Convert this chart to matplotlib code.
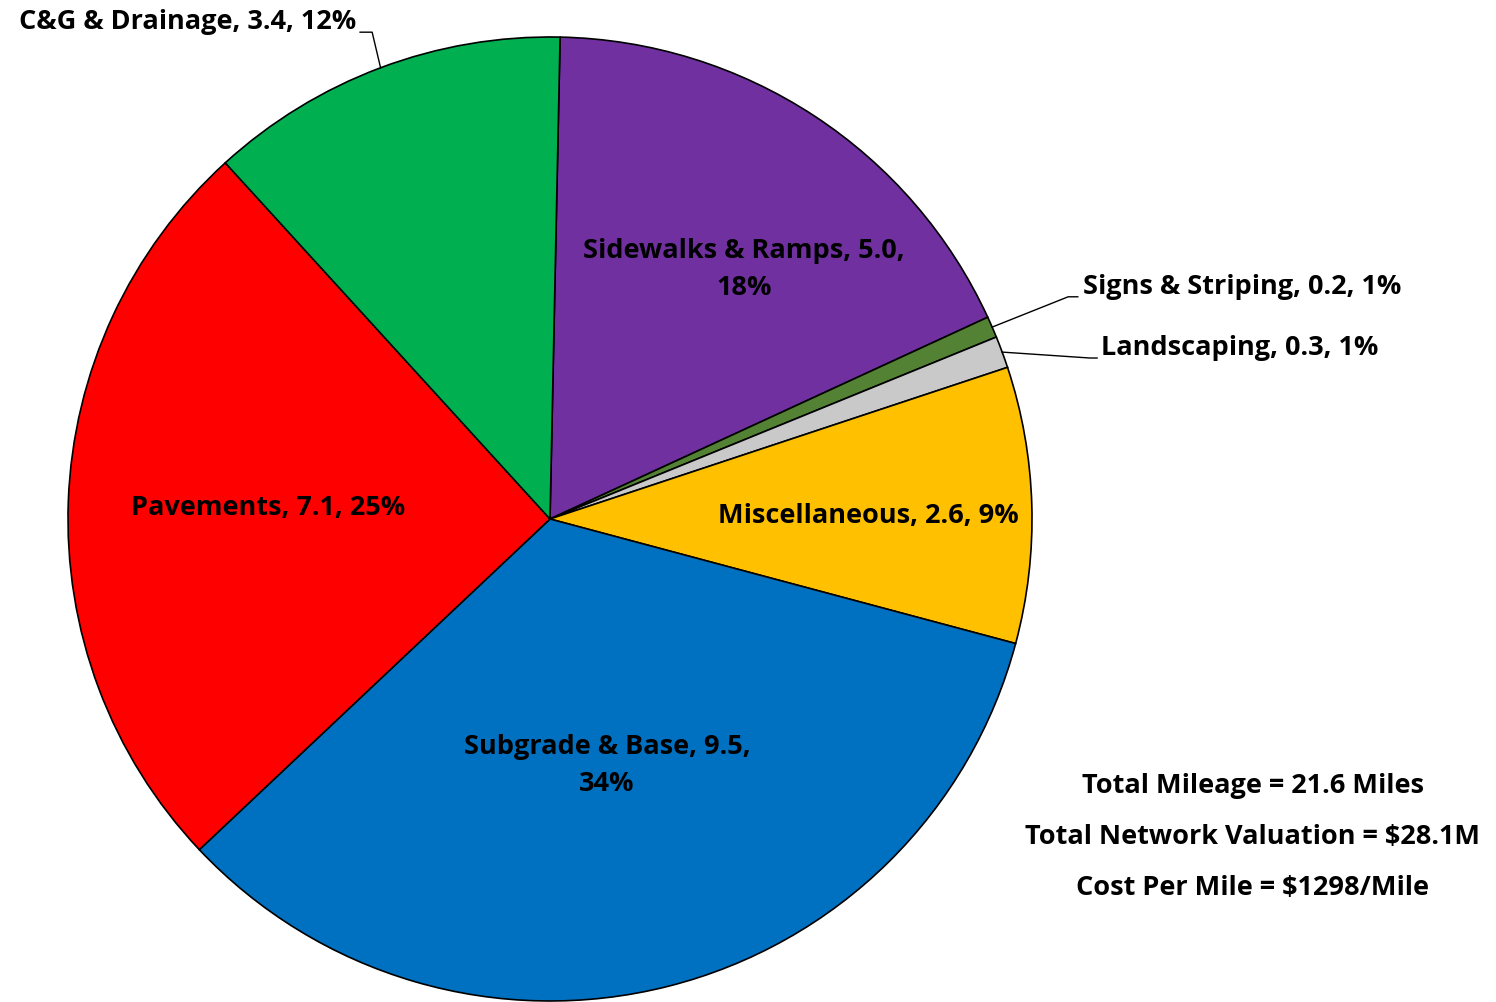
import numpy as np
import matplotlib.pyplot as plt

names = ['Sidewalks & Ramps', 'Signs & Striping', 'Landscaping', 'Miscellaneous',
         'Subgrade & Base', 'Pavements', 'C&G & Drainage']
values = [5.0, 0.2, 0.3, 2.6, 9.5, 7.1, 3.4]
pcts = [18, 1, 1, 9, 34, 25, 12]
colors = ['#7030A0', '#548235', '#C9C9C9', '#FFC000', '#0070C0', '#FF0000', '#00B050']
notes = ['Total Mileage = 21.6 Miles',
         'Total Network Valuation = $28.1M',
         'Cost Per Mile = $1298/Mile']

plt.rcParams['font.family'] = ['Open Sans', 'DejaVu Sans']
fs = 19.5

fig = plt.figure(figsize=(14.96, 10.02), dpi=100)
ax = fig.add_axes([68/1496, 1/1002, 964/1496, 964/1002])
start = 88.8
wedges, _ = ax.pie(values, colors=colors, startangle=start, counterclock=False,
                   wedgeprops=dict(edgecolor='black', linewidth=1.2))
ax.set_xlim(-1, 1)
ax.set_ylim(-1, 1)
ax.set_aspect('equal')
ax.axis('off')

# inside labels: radius from centre and angle shift (None = outside label)
inner_r = [0.655, None, None, 0.66, 0.524, 0.586, None]
inner_shift = [-4.7, 0, 0, -1.2, -1.1, 0, 0]
# outside labels: elbow point, line end, text anchor
outer = {
    1: ((1.075, 0.461), (1.095, 0.461), (1.106, 0.481), 'left'),
    2: ((1.12, 0.334), (1.135, 0.334), (1.143, 0.355), 'left'),
    6: ((-0.369, 1.010), (-0.394, 1.010), (-0.402, 1.031), 'right'),
}

for i, w in enumerate(wedges):
    mid = np.deg2rad((w.theta1 + w.theta2) / 2 + inner_shift[i])
    if inner_r[i] is not None:
        r = inner_r[i]
        txt = f'{names[i]}, {values[i]:.1f}, {pcts[i]}%'
        if i in (0, 4):
            txt = f'{names[i]}, {values[i]:.1f},\n{pcts[i]}%'
        ax.text(r * np.cos(mid), r * np.sin(mid), txt, ha='center', va='center',
                fontsize=fs, fontweight='bold', linespacing=1.55)
    else:
        elbow, end, tpos, ha = outer[i]
        ax.plot([np.cos(mid), elbow[0], end[0]], [np.sin(mid), elbow[1], end[1]],
                color='black', lw=1, clip_on=False)
        ax.text(tpos[0], tpos[1], f'{names[i]}, {values[i]:.1f}, {pcts[i]}%',
                ha=ha, va='center', fontsize=fs, fontweight='bold', clip_on=False)

for k, s in enumerate(notes):
    fig.text(0.8375, 0.216 - k * 0.0509, s, ha='center', va='center',
             fontsize=19.5, fontweight='bold')

fig.savefig('out.png', dpi=100)
